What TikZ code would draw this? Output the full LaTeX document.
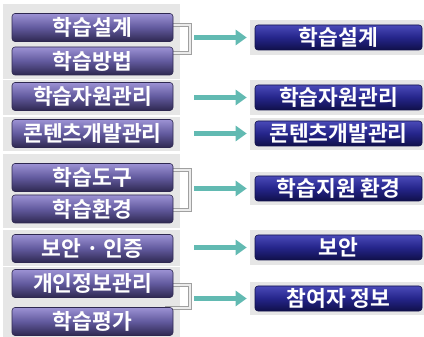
\documentclass[tikz,border=0pt]{standalone}
\usepackage{fontspec}
\newfontfamily\kr{Noto Sans CJK KR}[BoldFont={Noto Sans CJK KR Bold}]
\usetikzlibrary{arrows.meta}
\definecolor{panel}{HTML}{E6E6E6}
\definecolor{lavtop}{HTML}{9C92D4}
\definecolor{lavmid}{HTML}{625A9E}
\definecolor{lavbot}{HTML}{2E2850}
\definecolor{navytop}{HTML}{4A4AB8}
\definecolor{navymid}{HTML}{25258A}
\definecolor{navybot}{HTML}{10104A}
\definecolor{teal}{HTML}{62BAB2}
\definecolor{brkgrey}{HTML}{A0A0A0}
\begin{document}
\begin{tikzpicture}[x=1pt,y=-1pt,
  lbox/.style={rounded corners=3pt, minimum width=161pt, minimum height=28pt, inner sep=0pt,
    top color=lavtop, bottom color=lavbot, middle color=lavmid, draw=lavbot, line width=0.6pt,
    text=white, font=\kr\bfseries\fontsize{21.5}{21.5}\selectfont},
  rbox/.style={rounded corners=3pt, minimum width=167pt, minimum height=25pt, inner sep=0pt,
    top color=navytop, bottom color=navybot, middle color=navymid, draw=navybot, line width=0.6pt,
    text=white, font=\kr\bfseries\fontsize{21.5}{21.5}\selectfont},
  pnl/.style={fill=panel, draw=none},
  brk/.style={draw=brkgrey, line width=0.8pt, double=white!92!black, double distance=2.5pt},
  arr/.style={draw=teal, line width=5.5pt, -{Triangle[length=11pt,width=15pt]}, shorten >=8pt}]
\useasboundingbox (0,0) rectangle (424,337);
% left panels
\fill[pnl] (3,4) rectangle (180,79);
\fill[pnl] (3,80) rectangle (180,115);
\fill[pnl] (3,117) rectangle (180,151);
\fill[pnl] (3,154) rectangle (180,228);
\fill[pnl] (3,230) rectangle (180,266);
\fill[pnl] (3,267) rectangle (180,337);
% right panels
\fill[pnl] (250,20) rectangle (424,55);
\fill[pnl] (250,80) rectangle (424,115);
\fill[pnl] (250,118) rectangle (424,150);
\fill[pnl] (250,172) rectangle (424,205);
\fill[pnl] (250,230) rectangle (424,265);
\fill[pnl] (250,282) rectangle (424,315);
% brackets
\draw[brk] (165,25) -- (190,25) -- (190,53) -- (165,53);
\draw[brk] (165,170) -- (190,170) -- (190,210) -- (165,210);
\draw[brk] (165,285) -- (190,285) -- (190,308) -- (165,308);
% left boxes
\node[lbox] (b1) at (92.5,27.5) {학습설계};
\node[lbox] (b2) at (92.5,61) {학습방법};
\node[lbox] (b3) at (92.5,96.5) {학습자원관리};
\node[lbox] (b4) at (92.5,133.5) {콘텐츠개발관리};
\node[lbox] (b5) at (92.5,177.5) {학습도구};
\node[lbox] (b6) at (92.5,209) {학습환경};
\node[lbox] (b7) at (92.5,248.5) {보안 · 인증};
\node[lbox] (b8) at (92.5,283.5) {개인정보관리};
\node[lbox] (b9) at (92.5,321.5) {학습평가};
% right boxes
\node[rbox] (r1) at (338.5,37.5) {학습설계};
\node[rbox] (r2) at (338.5,97.5) {학습자원관리};
\node[rbox] (r3) at (338.5,133.5) {콘텐츠개발관리};
\node[rbox] (r4) at (338.5,188.5) {학습지원 환경};
\node[rbox] (r5) at (338.5,247.5) {보안};
\node[rbox] (r6) at (338.5,298.5) {참여자 정보};
% arrow starts
\coordinate (s1) at (194,37.5);
\coordinate (s2) at (194,97.5);
\coordinate (s3) at (194,133.5);
\coordinate (s4) at (194,188.5);
\coordinate (s5) at (194,247.5);
\coordinate (s6) at (194,298.5);
\draw[arr] (s1) -- (r1.west);
\draw[arr] (s2) -- (r2.west);
\draw[arr] (s3) -- (r3.west);
\draw[arr] (s4) -- (r4.west);
\draw[arr] (s5) -- (r5.west);
\draw[arr] (s6) -- (r6.west);
\end{tikzpicture}
\end{document}
